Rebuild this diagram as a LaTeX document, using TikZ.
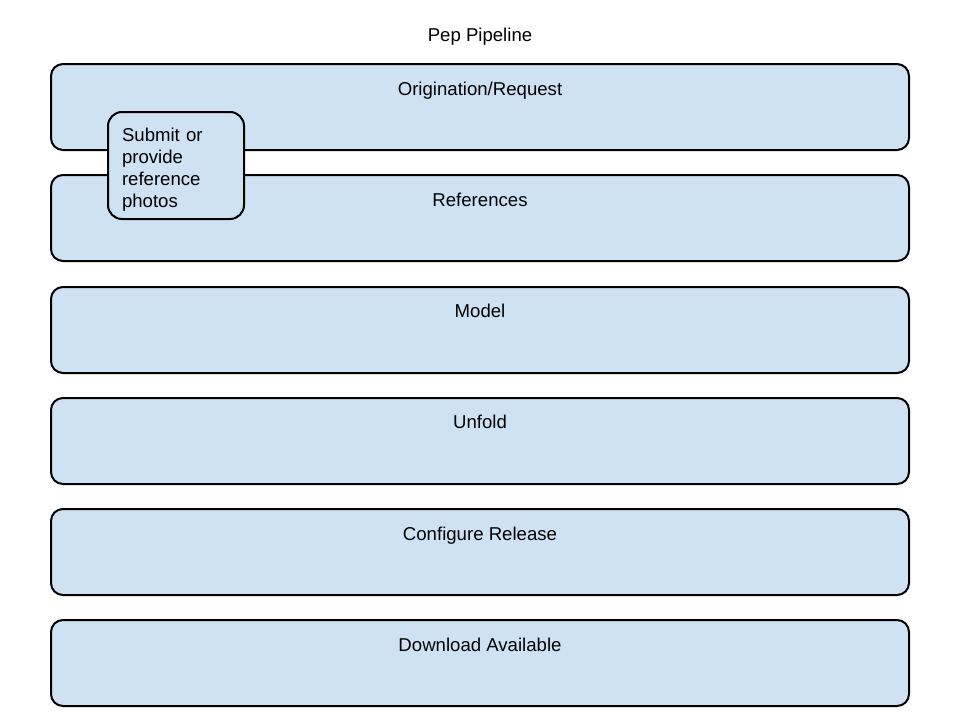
\documentclass[tikz,border=0pt]{standalone}
\usepackage{fontspec}
\setmainfont{Liberation Sans}
\usetikzlibrary{positioning}
\definecolor{stageblue}{HTML}{CFE2F3}

\begin{document}
\begin{tikzpicture}[
			% GLOBAL CFG
			x=1pt, y=-1pt,
			font=\fontsize{18.6}{22}\selectfont,
			% Styles
			stage/.style={% For the pipeline bands
				rectangle,
				rounded corners=12pt,
				draw=black,
				fill=stageblue,
				line width=2pt,
				minimum width=858pt,
				minimum height=86pt,
			},
			stagelabel/.style={% Band titles
				inner sep=0pt,
				anchor=mid,
			},
			note/.style={% Small note box
				rectangle,
				rounded corners=14pt,
				draw=black,
				fill=stageblue,
				line width=2pt,
				minimum width=136pt,
				minimum height=107pt,
				text width=108pt,
				align=left,
			},
			]
			% Fix the page
			\useasboundingbox (0,0) rectangle (960,720);
			
			% Title
			\node[stagelabel] (title) at (480,39) {Pep Pipeline};
			
			% Draw the bands
			\node[stage] (orig) at (480,107) {};
			\node[stage] (refs) at (480,218) {};
			\node[stage] (model) at (480,330) {};
			\node[stage] (unfold) at (480,441) {};
			\node[stage] (config) at (480,552) {};
			\node[stage] (download) at (480,663) {};
			
			% Band titles
			\node[stagelabel] (origlbl) at (480,93) {Origination/Request};
			\node[stagelabel] (refslbl) at (480,204) {References};
			\node[stagelabel] (modellbl) at (480,315) {Model};
			\node[stagelabel] (unfoldlbl) at (480,426) {Unfold};
			\node[stagelabel] (configlbl) at (480,538) {Configure Release};
			\node[stagelabel] (downloadlbl) at (480,649) {Download Available};
			
			% Note on top of the first two bands
			\node[note] (submit) at (176,165.5) {\rule{0pt}{21pt}Submit or\\provide\\reference\\photos};
			
		\end{tikzpicture}
\end{document}
